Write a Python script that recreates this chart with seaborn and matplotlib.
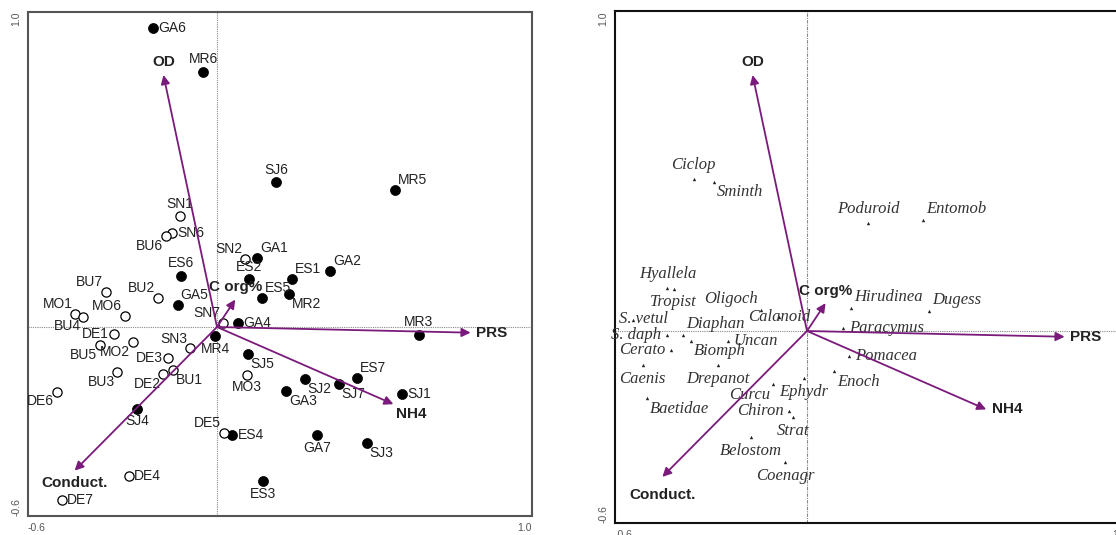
import numpy as np
import pandas as pd
import seaborn as sns
import matplotlib.pyplot as plt

# --- site scores (left panel) ---
filled_sites = ["GA6", "MR6", "SJ6", "MR5", "GA1", "GA2", "ES1", "ES2", "ES5", "MR2",
                "ES6", "GA5", "GA4", "MR4", "SJ5", "SJ4", "ES4", "ES3", "MR3", "ES7",
                "SJ2", "SJ7", "GA3", "SJ1", "GA7", "SJ3"]
filled_x = [-0.203, -0.044, 0.187, 0.565, 0.127, 0.359, 0.238, 0.102, 0.143, 0.229,
            -0.114, -0.124, 0.067, -0.006, 0.098, -0.254, 0.048, 0.146, 0.641, 0.444,
            0.279, 0.387, 0.219, 0.587, 0.317, 0.476]
filled_y = [0.949, 0.810, 0.460, 0.435, 0.219, 0.178, 0.152, 0.152, 0.093, 0.105,
            0.162, 0.070, 0.013, -0.029, -0.086, -0.260, -0.343, -0.489, -0.025, -0.162,
            -0.165, -0.181, -0.203, -0.213, -0.343, -0.368]

open_sites = ["SN1", "SN6", "BU6", "SN2", "BU7", "BU2", "MO1", "BU4", "MO6", "DE1",
              "BU5", "MO2", "BU3", "DE2", "DE3", "BU1", "SN3", "SN7", "MO3", "DE5",
              "DE4", "DE7", "DE6"]
open_x = [-0.117, -0.143, -0.162, 0.089, -0.352, -0.187, -0.450, -0.424, -0.293, -0.326,
          -0.371, -0.266, -0.316, -0.170, -0.155, -0.139, -0.086, 0.020, 0.094, 0.022,
          -0.280, -0.493, -0.509]
open_y = [0.352, 0.298, 0.289, 0.216, 0.111, 0.092, 0.041, 0.033, 0.036, -0.023,
          -0.057, -0.047, -0.142, -0.150, -0.097, -0.137, -0.068, 0.014, -0.152, -0.335,
          -0.473, -0.549, -0.205]

# --- environmental arrows (both panels) ---
env_names = ["OD", "C org%", "PRS", "NH4", "Conduct."]
env_x = [-0.170, 0.058, 0.805, 0.560, -0.452]
env_y = [0.800, 0.087, -0.018, -0.245, -0.456]

# --- species scores (right panel) ---
species = ["Ciclop", "Sminth", "Poduroid", "Entomob", "Hyallela", "Tropist", "S. vetul",
           "S. daph", "Diaphan", "Biomph", "Cerato", "Caenis", "Drepanot", "Uncan",
           "Baetidae", "Oligoch", "Calanoid", "Curcu", "Ephydr", "Chiron", "Strat",
           "Belostom", "Coenagr", "Enoch", "Hirudinea", "Dugess", "Paracymus", "Pomacea"]
species_x = [-0.354, -0.292, 0.191, 0.364, -0.436, -0.417, -0.545,
             -0.438, -0.386, -0.361, -0.426, -0.514, -0.279, -0.248,
             -0.500, -0.144, -0.088, -0.107, -0.009, -0.056, -0.044,
             -0.176, -0.069, 0.085, 0.138, 0.382, 0.113, 0.132]
species_y = [0.476, 0.467, 0.339, 0.348, 0.135, 0.132, 0.034,
             -0.013, -0.013, -0.030, -0.060, -0.107, -0.107, -0.030,
             -0.210, 0.066, 0.044, -0.166, -0.147, -0.250, -0.270,
             -0.332, -0.410, -0.125, 0.072, 0.063, 0.009, -0.078]

# label placement codes
site_pos = {
    "GA6": "r", "MR6": "t", "SJ6": "t", "MR5": "tr", "GA1": "tr", "GA2": "tr",
    "ES1": "tr", "ES2": "t", "ES5": "tr", "MR2": "br", "ES6": "t", "GA5": "tr",
    "GA4": "r", "MR4": "b", "SJ5": "br", "SJ4": "b", "ES4": "r", "ES3": "b",
    "MR3": "t", "ES7": "tr", "SJ2": "br", "SJ7": "br", "GA3": "br", "SJ1": "r",
    "GA7": "b", "SJ3": "br",
    "SN1": "t", "SN6": "r", "BU6": "bl", "SN2": "tl", "BU7": "tl", "BU2": "tl",
    "MO1": "tl", "BU4": "bl", "MO6": "tl", "DE1": "l", "BU5": "bl", "MO2": "bl",
    "BU3": "bl", "DE2": "bl", "DE3": "l", "BU1": "br", "SN3": "tl", "SN7": "tl",
    "MO3": "b", "DE5": "tl", "DE4": "r", "DE7": "r", "DE6": "bl",
}
species_pos = {
    "Ciclop": "t", "Sminth": "br", "Poduroid": "t", "Entomob": "tr", "Hyallela": "t",
    "Tropist": "b", "S. vetul": "cr", "S. daph": "l", "Diaphan": "tr", "Biomph": "br",
    "Cerato": "l", "Caenis": "b", "Drepanot": "b", "Uncan": "r", "Baetidae": "br",
    "Oligoch": "tl", "Calanoid": "c", "Curcu": "bl", "Ephydr": "b", "Chiron": "l",
    "Strat": "b", "Belostom": "b", "Coenagr": "b", "Enoch": "br", "Hirudinea": "tr",
    "Dugess": "tr", "Paracymus": "r", "Pomacea": "r",
}
env_pos_left = {"OD": "t", "C org%": "t", "PRS": "r", "NH4": "br", "Conduct.": "b"}
env_pos_right = {"OD": "t", "C org%": "t", "PRS": "r", "NH4": "r", "Conduct.": "bb"}

OFFS = {
    "r": (4, 0, "left", "center"), "l": (-4, 0, "right", "center"),
    "t": (0, 4, "center", "bottom"), "b": (0, -4, "center", "top"),
    "bb": (0, -8, "center", "top"),
    "tr": (2, 2, "left", "bottom"), "tl": (-2, 2, "right", "bottom"),
    "br": (2, -2, "left", "top"), "bl": (-2, -2, "right", "top"),
    "c": (0, 0, "center", "center"), "cr": (8, 1, "center", "center"),
}

sns.set_theme(style="white")
plt.rcParams["font.family"] = ["Liberation Sans", "DejaVu Sans"]

W, H = 1116, 535
fig = plt.figure(figsize=(W / 100, H / 100), dpi=100)
ax1 = fig.add_axes([28 / W, (H - 516) / H, 504 / W, 504 / H])
ax2 = fig.add_axes([615 / W, (H - 523) / H, 512 / W, 512 / H])

ARROW = "#7a1b7c"


def label(ax, x, y, text, code, **kw):
    dx, dy, ha, va = OFFS[code]
    ax.annotate(text, (x, y), xytext=(dx, dy), textcoords="offset points",
                ha=ha, va=va, **kw)


def frame(ax, spine_col):
    ax.set_xlim(-0.6, 1.0)
    ax.set_ylim(-0.6, 1.0)
    ticks = np.round(np.arange(-0.6, 1.01, 0.2), 1)
    ax.set_xticks(ticks)
    ax.set_yticks(ticks)
    ax.set_xticklabels(["-0.6"] + [""] * (len(ticks) - 2) + ["1.0"])
    ax.set_yticklabels(["-0.6"] + [""] * (len(ticks) - 2) + ["1.0"], rotation=90)
    xl = ax.get_xticklabels()
    xl[0].set_ha("left")
    xl[-1].set_ha("right")
    yl = ax.get_yticklabels()
    yl[0].set_va("bottom")
    yl[-1].set_va("top")
    ax.tick_params(direction="inout", length=6, width=1, color=spine_col,
                   labelsize=7.5, labelcolor="#555555", pad=2)
    for s in ax.spines.values():
        s.set_color(spine_col)
        s.set_linewidth(1.5)
    ax.set_xlabel("")
    ax.set_ylabel("")


def arrows(ax, pos):
    for n, x, y in zip(env_names, env_x, env_y):
        ax.annotate("", xy=(x, y), xytext=(0, 0),
                    arrowprops=dict(arrowstyle="-|>", color=ARROW, lw=1.3,
                                    mutation_scale=13, shrinkA=0, shrinkB=0))
        label(ax, x, y, n, pos[n], fontsize=11, fontweight="bold", color="#222222")


# ---- left panel: sites ----
ax1.axhline(0, color="#888888", lw=0.8, ls=(0, (1, 1)), zorder=0)
ax1.axvline(0, color="#888888", lw=0.8, ls=(0, (1, 1)), zorder=0)
df_f = pd.DataFrame({"x": filled_x, "y": filled_y, "site": filled_sites})
df_o = pd.DataFrame({"x": open_x, "y": open_y, "site": open_sites})
sns.scatterplot(data=df_f, x="x", y="y", ax=ax1, color="black", s=52,
                edgecolor="black", linewidth=0.5, zorder=3)
sns.scatterplot(data=df_o, x="x", y="y", ax=ax1, facecolor="white", s=44,
                edgecolor="black", linewidth=0.9, zorder=3)
for d in (df_f, df_o):
    for _, r in d.iterrows():
        label(ax1, r.x, r.y, r.site, site_pos[r.site], fontsize=10, color="#222222")
arrows(ax1, env_pos_left)
frame(ax1, "#555555")

# ---- right panel: species ----
ax2.axhline(0, color="#888888", lw=0.8, ls=(0, (1, 1)), zorder=0)
ax2.axvline(0, color="#888888", lw=0.8, ls=(0, (3, 1, 1, 1)), zorder=0)
df_s = pd.DataFrame({"x": species_x, "y": species_y, "sp": species})
sns.scatterplot(data=df_s, x="x", y="y", ax=ax2, color="#222222", marker="^",
                s=6, linewidth=0, zorder=3)
for _, r in df_s.iterrows():
    label(ax2, r.x, r.y, r.sp, species_pos[r.sp], fontsize=12, style="italic",
          family=["Liberation Serif", "DejaVu Serif"], color="#333333")
arrows(ax2, env_pos_right)
frame(ax2, "#111111")

fig.savefig("out.png", dpi=100)
